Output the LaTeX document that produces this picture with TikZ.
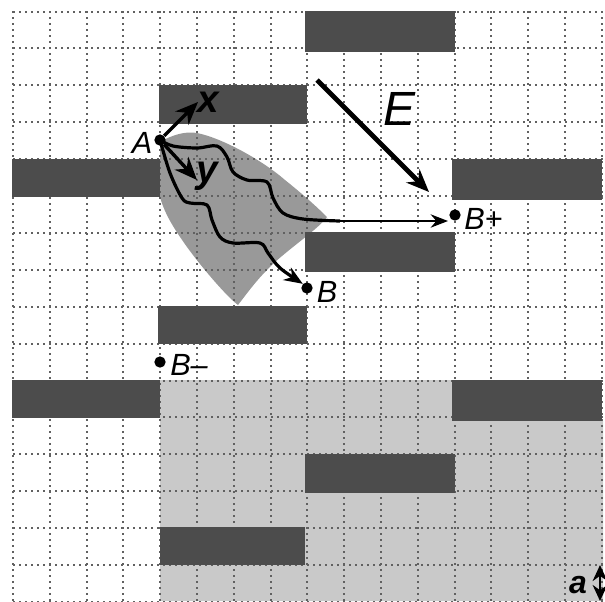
\documentclass[tikz,border=0pt]{standalone}
\usepackage{fontspec}
\setmainfont{Liberation Sans}
\usetikzlibrary{arrows.meta}
\tikzset{
  x=0.75pt,y=-0.75pt,
  gridline/.style={line width=1.5pt,draw=black!62,dash pattern=on 1.5pt off 3pt},
  bar/.style={fill=black!70,draw=none},
  pt/.style={circle,fill=black,inner sep=0pt,minimum size=8.5pt},
  lab/.style={font=\fontsize{23}{23}\selectfont\itshape,inner sep=0pt},
  biglab/.style={font=\fontsize{29}{29}\selectfont\bfseries\itshape,inner sep=0pt},
  axisarrow/.style={line width=2.6pt,-{Stealth[length=17pt,width=14pt]}},
  wave/.style={line width=2.4pt,line join=round},
}
\begin{document}
\begin{tikzpicture}
\useasboundingbox (0,0) rectangle (605,601);
% shaded halves
\fill[black!21] (160,380) -- (452,380) -- (452,421) -- (603,421) -- (603,601) -- (160,601) -- cycle;
% cone
\fill[black!40] (160,142) .. controls (172,135) and (185,131) .. (197,133)
  .. controls (222,138) and (262,160) .. (285,180)
  .. controls (300,192) and (315,205) .. (327,217)
  .. controls (320,228) and (280,255) .. (267,270)
  .. controls (255,282) and (245,296) .. (238,305)
  .. controls (225,295) and (200,265) .. (187,247)
  .. controls (175,230) and (165,215) .. (160,197) -- cycle;
% grid
\foreach \k in {0,...,16}{
  \draw[gridline] ({13+36.8*\k},11) -- ({13+36.8*\k},601);
  \draw[gridline] (13,{11.5+36.9*\k}) -- (603,{11.5+36.9*\k});
}
% bars
\fill[bar] (305,11) rectangle (455,52);
\fill[bar] (159,85) rectangle (307,124);
\fill[bar] (12,159) rectangle (160,197);
\fill[bar] (452,159) rectangle (602,200);
\fill[bar] (305,232) rectangle (455,272);
\fill[bar] (158,306) rectangle (307,344);
\fill[bar] (12,380) rectangle (160,418);
\fill[bar] (452,380) rectangle (602,421);
\fill[bar] (305,454) rectangle (455,493);
\fill[bar] (160,527) rectangle (305,565);
% points and labels
\node[pt] (A) at (160,140) {};
\node[pt] (B) at (307,288) {};
\node[pt] (Bp) at (455,215) {};
\node[pt] (Bm) at (160,362) {};
\node[lab] (tA) at (142,143) {A};
\node[lab] (tB) at (327,292) {B};
\node[lab,anchor=west] (tBp) at (464,219) {B+};
\node[lab,anchor=west] (tBm) at (170,365) {B–};
\node[biglab] (tx) at (208,102) {x};
\node[biglab] (ty) at (207,176) {y};
\node[lab,font=\fontsize{36}{36}\selectfont\itshape] (tE) at (399,109) {E};
\node[biglab,font=\fontsize{24}{24}\selectfont\bfseries\itshape] (ta) at (578,585) {a};
% free ends
\coordinate (xend) at (198,102);
\coordinate (yend) at (197,180);
\coordinate (Es) at (317,80);
\coordinate (Ee) at (429,192);
\coordinate (au) at (600,565);
\coordinate (ad) at (600,601);
\coordinate (Bpe) at (448,221);
\coordinate (Wv) at (340,221);
% connectors
\draw[axisarrow] (A) -- (xend);
\draw[axisarrow] (A) -- (yend);
\draw[line width=3.6pt,-{Stealth[length=17pt,width=14pt]}] (Es) -- (Ee);
\draw[line width=1.8pt,{Stealth[length=12pt,width=11pt]}-{Stealth[length=12pt,width=11pt]}] (au) -- (ad);
\draw[wave] plot[smooth,tension=0.55] coordinates {(A.center) (173,146) (197,148) (217,146) (227,157) (233,172) (247,180) (267,182) (273,198) (283,213) (303,219) (Wv)};
\draw[line width=1.5pt,-{Stealth[length=13pt,width=10pt]}] (Wv) -- (Bpe);
\draw[wave,-{Stealth[length=14pt,width=11pt]}] plot[smooth,tension=0.55] coordinates {(A.center) (170,173) (182,198) (190,203) (207,205) (212,220) (220,237) (233,243) (260,243) (268,253) (280,268) (B.north west)};
\end{tikzpicture}
\end{document}
